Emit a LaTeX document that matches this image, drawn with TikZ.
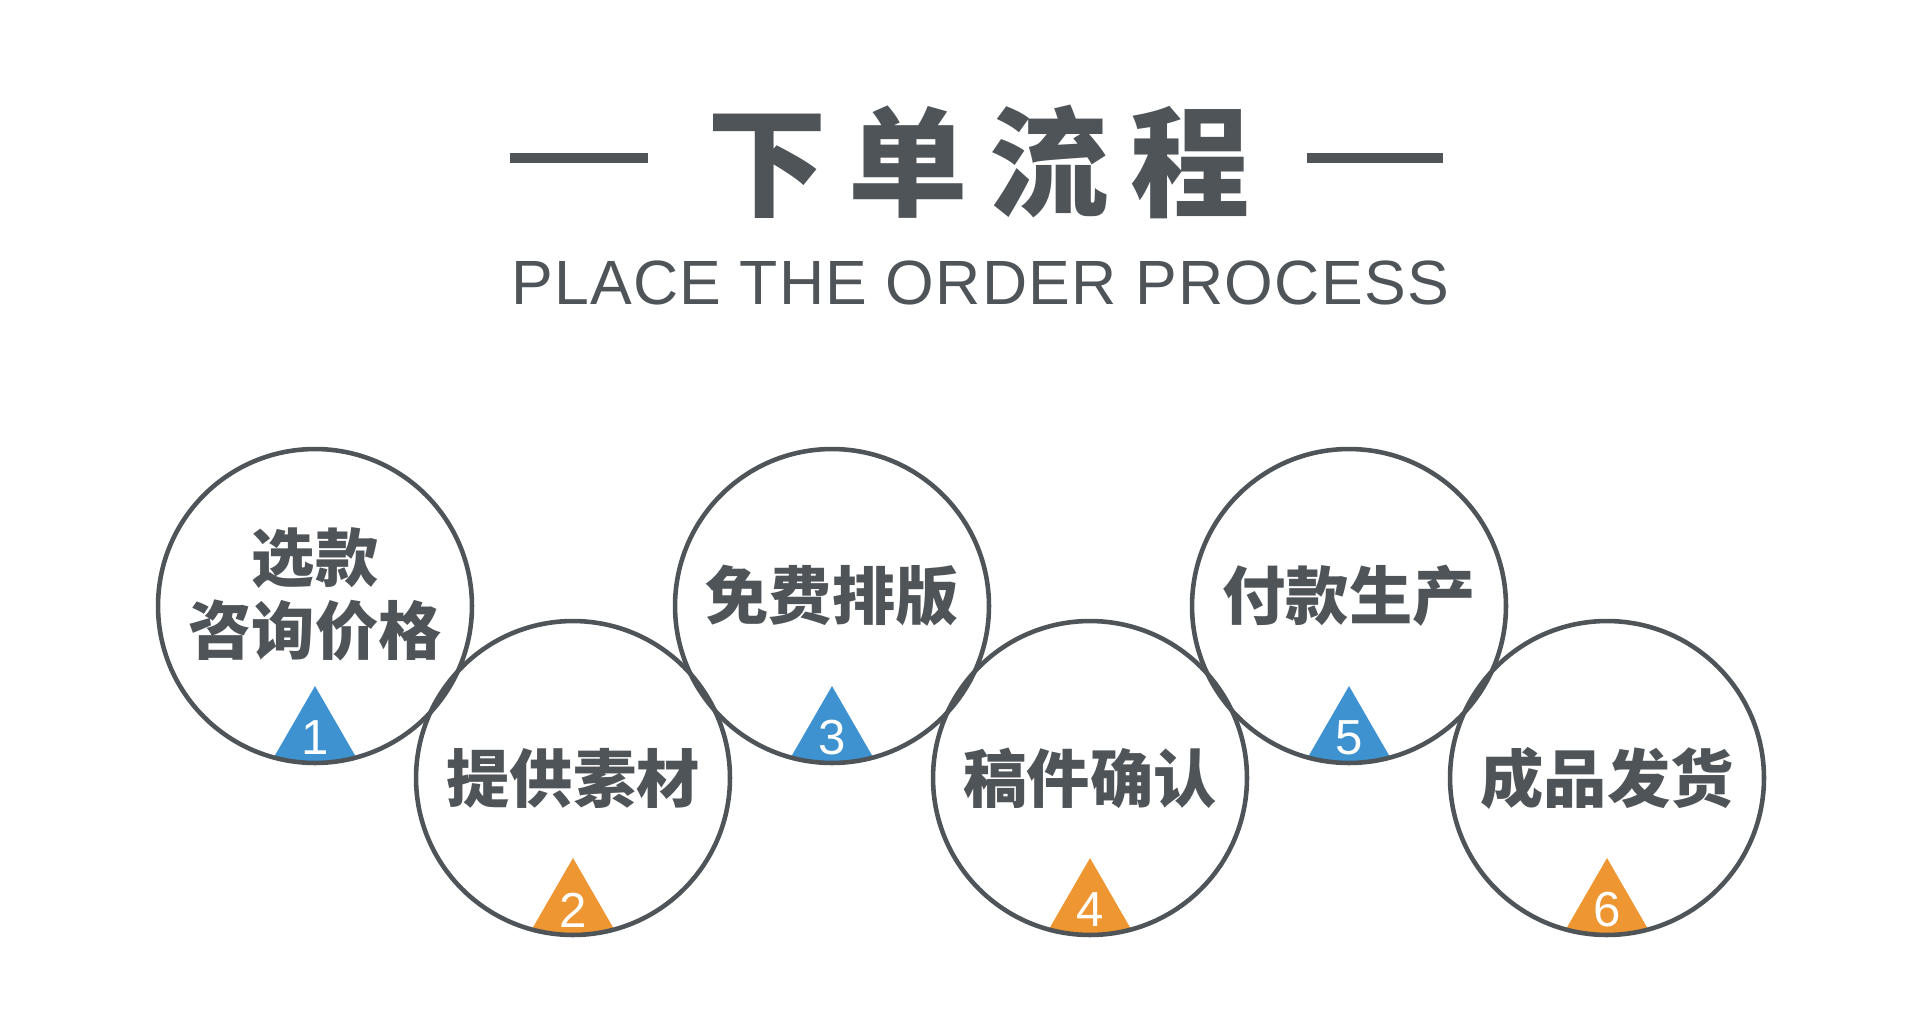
\documentclass[tikz,border=0pt]{standalone}
\usepackage{fontspec}
\setmainfont{Liberation Sans}
\newfontfamily\cjk{Noto Sans CJK SC}
\usetikzlibrary{positioning}
\definecolor{inkgray}{RGB}{79,84,89}
\definecolor{stepblue}{RGB}{61,146,207}
\definecolor{steporange}{RGB}{238,150,50}

\begin{document}
\begin{tikzpicture}[x=0.02cm,y=-0.02cm]
  % Styles for the order steps
  \tikzset{
    stepcircle/.style={circle, draw=inkgray, line width=2.6pt, minimum size=6.28cm, inner sep=0pt},
    steptext/.style={font=\cjk\bfseries\fontsize{36}{41.4}\selectfont, text=inkgray, align=center, inner sep=0pt},
    stepnum/.style={font=\fontsize{28}{28}\selectfont, text=white, inner sep=0pt},
    bluetri/.style={fill=stepblue},
    orangetri/.style={fill=steporange},
    titledash/.style={draw=inkgray, line width=5.4pt}
  }
  \useasboundingbox (0,0) rectangle (1920,1031);

  % Heading
  \node[font=\cjk\bfseries\fontsize{68}{68}\selectfont\addfontfeatures{LetterSpace=18}, text=inkgray, inner sep=0pt] (title) at (979,162) {下单流程};
  \node[font=\fontsize{35.6}{40}\selectfont\addfontfeatures{LetterSpace=2}, text=inkgray, inner sep=0pt] (subtitle) at (980,283) {PLACE THE ORDER PROCESS};
  \coordinate (dashL1) at (510,158);
  \coordinate (dashL2) at (648,158);
  \coordinate (dashR1) at (1307,158);
  \coordinate (dashR2) at (1443,158);
  \draw[titledash] (dashL1) -- (dashL2);
  \draw[titledash] (dashR1) -- (dashR2);

  % Circle centres
  \coordinate (p1) at (315,606);
  \coordinate (p2) at (573,778);
  \coordinate (p3) at (832,606);
  \coordinate (p4) at (1090,778);
  \coordinate (p5) at (1349,606);
  \coordinate (p6) at (1607,778);

  % Triangles, cut by the circles
  \begin{scope}
    \clip (p1) circle (156);
    \fill[bluetri] (p1) ++(0,80) -- ++(-60,104) -- ++(120,0) -- cycle;
  \end{scope}
  \begin{scope}
    \clip (p2) circle (156);
    \fill[orangetri] (p2) ++(0,80) -- ++(-60,104) -- ++(120,0) -- cycle;
  \end{scope}
  \begin{scope}
    \clip (p3) circle (156);
    \fill[bluetri] (p3) ++(0,80) -- ++(-60,104) -- ++(120,0) -- cycle;
  \end{scope}
  \begin{scope}
    \clip (p4) circle (156);
    \fill[orangetri] (p4) ++(0,80) -- ++(-60,104) -- ++(120,0) -- cycle;
  \end{scope}
  \begin{scope}
    \clip (p5) circle (156);
    \fill[bluetri] (p5) ++(0,80) -- ++(-60,104) -- ++(120,0) -- cycle;
  \end{scope}
  \begin{scope}
    \clip (p6) circle (156);
    \fill[orangetri] (p6) ++(0,80) -- ++(-60,104) -- ++(120,0) -- cycle;
  \end{scope}

  % Circles
  \node[stepcircle] (c1) at (p1) {};
  \node[stepcircle] (c2) at (p2) {};
  \node[stepcircle] (c3) at (p3) {};
  \node[stepcircle] (c4) at (p4) {};
  \node[stepcircle] (c5) at (p5) {};
  \node[stepcircle] (c6) at (p6) {};

  % Step texts
  \node[steptext] (t1) at (315,594) {选款\\咨询价格};
  \node[steptext] (t2) at (573,778) {提供素材};
  \node[steptext] (t3) at (832,596) {免费排版};
  \node[steptext] (t4) at (1090,778) {稿件确认};
  \node[steptext] (t5) at (1349,596) {付款生产};
  \node[steptext] (t6) at (1607,778) {成品发货};

  % Step numbers
  \node[stepnum] (n1) at (315,738) {1};
  \node[stepnum] (n2) at (573,910) {2};
  \node[stepnum] (n3) at (832,738) {3};
  \node[stepnum] (n4) at (1090,910) {4};
  \node[stepnum] (n5) at (1349,738) {5};
  \node[stepnum] (n6) at (1607,910) {6};
\end{tikzpicture}
\end{document}
